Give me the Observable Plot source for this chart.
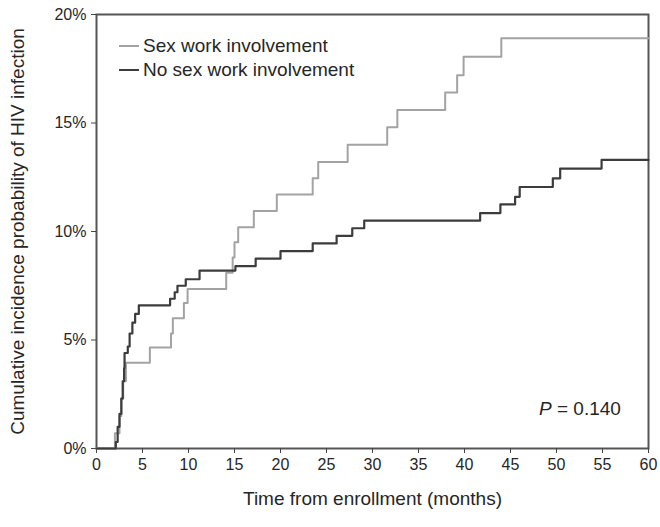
<!DOCTYPE html>
<html>
<head>
<meta charset="utf-8">
<script src="https://cdn.jsdelivr.net/npm/d3@7"></script>
<script src="https://cdn.jsdelivr.net/npm/@observablehq/plot@0.6"></script>
<style>
  body { margin: 0; background: #fff; }
  #wrap { position: relative; width: 660px; height: 527px; font-family: "Liberation Sans", Arial, sans-serif; color: #262626; }
  .leg { position: absolute; left: 119px; font-size: 19px; display: flex; align-items: center; white-space: nowrap; }
  .leg span.sw { display: inline-block; width: 20px; height: 0; margin-right: 4px; }
  #pval { position: absolute; left: 539px; top: 398px; font-size: 19px; white-space: nowrap; }
</style>
</head>
<body>
<div id="wrap">
  <div id="chart"></div>
  <div class="leg" style="top:35px"><span class="sw" style="border-top:2px solid #a3a3a3"></span>Sex work involvement</div>
  <div class="leg" style="top:59px"><span class="sw" style="border-top:2px solid #3c3c3c"></span>No sex work involvement</div>
  <div id="pval"><i>P</i> = 0.140</div>
</div>
<script>
// Sex work involvement (gray) – step curve
const sexMonths = [0, 2.0, 2.5, 2.7, 2.9, 3.2, 5.8, 8.1, 8.3, 9.5, 9.9, 14.1, 14.8, 15.0, 15.4, 17.1, 19.6, 23.5, 24.1, 27.3, 31.6, 32.7, 37.9, 39.2, 39.9, 44.0, 60];
const sexPct    = [0, 0.7, 1.5, 2.3, 3.1, 3.95, 4.65, 5.3, 6.0, 6.7, 7.35, 8.1, 8.8, 9.5, 10.2, 10.95, 11.7, 12.45, 13.2, 14.0, 14.8, 15.6, 16.4, 17.2, 18.05, 18.9, 18.9];

// No sex work involvement (black) – step curve
const noSexMonths = [0, 2.1, 2.3, 2.5, 2.7, 2.85, 3.0, 3.05, 3.4, 3.6, 3.9, 4.2, 4.6, 8.0, 8.5, 8.8, 9.7, 11.2, 15.1, 17.3, 20.0, 23.5, 26.1, 27.8, 29.1, 41.7, 43.9, 45.5, 46.0, 49.6, 50.4, 54.9, 60];
const noSexPct    = [0, 0.3, 1.0, 1.6, 2.3, 3.1, 3.7, 4.4, 4.7, 5.3, 5.8, 6.2, 6.6, 6.9, 7.2, 7.5, 7.8, 8.2, 8.4, 8.75, 9.1, 9.45, 9.8, 10.15, 10.5, 10.85, 11.25, 11.6, 12.05, 12.45, 12.9, 13.3, 13.3];

const xTicks = [0, 5, 10, 15, 20, 25, 30, 35, 40, 45, 50, 55, 60];
const yTicks = [0, 5, 10, 15, 20];

const sexData = sexMonths.map((m, i) => ({m, p: sexPct[i]}));
const noSexData = noSexMonths.map((m, i) => ({m, p: noSexPct[i]}));

const chart = Plot.plot({
  width: 660,
  height: 527,
  marginLeft: 96,
  marginRight: 12,
  marginTop: 14,
  marginBottom: 79,
  style: {fontFamily: "Liberation Sans, Arial, sans-serif", color: "#262626", background: "#fff"},
  x: {domain: [0, 60]},
  y: {domain: [0, 20]},
  marks: [
    Plot.frame({stroke: "#555", strokeWidth: 2}),
    Plot.axisX({ticks: xTicks, tickSize: 5, tickPadding: 5, fontSize: 16, stroke: "#444",
      label: "Time from enrollment (months)", labelAnchor: "center", labelArrow: "none", labelOffset: 56}),
    Plot.axisY({ticks: yTicks, tickSize: 5, tickPadding: 5, fontSize: 16, stroke: "#444",
      tickFormat: d => d + "%",
      label: "Cumulative incidence probability of HIV infection", labelAnchor: "center", labelArrow: "none", labelOffset: 86}),
    Plot.line(sexData, {x: "m", y: "p", curve: "step-after", stroke: "#a3a3a3", strokeWidth: 2}),
    Plot.line(noSexData, {x: "m", y: "p", curve: "step-after", stroke: "#3c3c3c", strokeWidth: 2.2})
  ]
});
document.getElementById("chart").appendChild(chart);
// enlarge axis titles
chart.querySelectorAll("g[aria-label='x-axis label'] text, g[aria-label='y-axis label'] text").forEach(t => t.setAttribute("font-size", "19"));
</script>
</body>
</html>
